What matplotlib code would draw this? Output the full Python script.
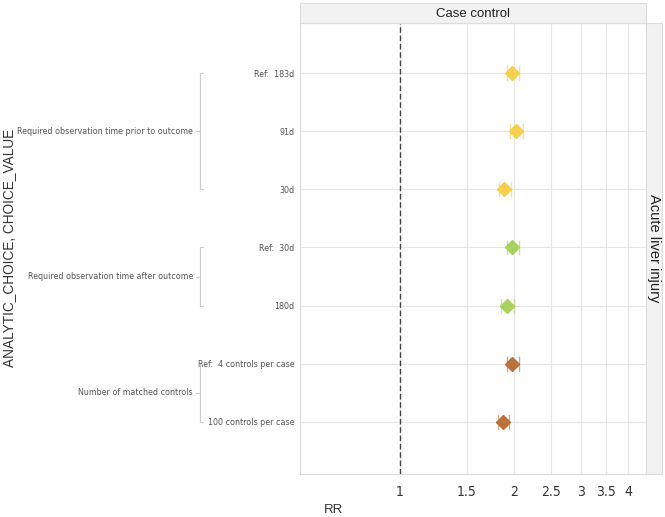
import numpy as np
import matplotlib
matplotlib.use("Agg")
import matplotlib.pyplot as plt
from matplotlib import font_manager

# data
choice_values = ["Ref:  183d", "91d", "30d", "Ref:  30d", "180d",
                 "Ref:  4 controls per case", "100 controls per case"]
rr = [1.98, 2.02, 1.88, 1.98, 1.92, 1.98, 1.87]
ci_low = [1.91, 1.95, 1.82, 1.91, 1.85, 1.91, 1.81]
ci_high = [2.06, 2.11, 1.96, 2.06, 2.00, 2.06, 1.94]
groups = ["Required observation time prior to outcome",
          "Required observation time after outcome",
          "Number of matched controls"]
group_rows = [[0, 1, 2], [3, 4], [5, 6]]
group_colors = ["#F6D04D", "#A8D25E", "#B8723A"]
x_ticks = [1, 1.5, 2, 2.5, 3, 3.5, 4]
x_ticklabels = ["1", "1.5", "2", "2.5", "3", "3.5", "4"]

# look for a condensed face
cond = [f for f in font_manager.fontManager.ttflist
        if ('Narrow' in f.name or 'Condensed' in f.name or 'condensed' in str(f.stretch))
        and 'Bold' not in f.fname and 'Oblique' not in f.fname and 'Italic' not in f.fname]
if cond:
    narrow = dict(family=[cond[0].name, 'DejaVu Sans'], stretch=cond[0].stretch)
    small = 6.4
else:
    narrow = dict(family=['Liberation Sans', 'DejaVu Sans'])
    small = 5.6
plt.rcParams['font.family'] = ['Liberation Sans', 'DejaVu Sans']

W, H = 665, 517
fig = plt.figure(figsize=(W / 100, H / 100), dpi=100)

def fx(px):
    return px / W

def fy(py):
    return 1 - py / H

ax = fig.add_axes([fx(300), fy(474), fx(645.5) - fx(300), fy(22.7) - fy(474)])
ax.set_xscale('log')
ax.set_xlim(0.545, 4.44)
ax.set_ylim(6.9, -0.87)

for t in x_ticks:
    ax.axvline(t, color='#E6E6E6', lw=0.8, zorder=0)
for i in range(len(choice_values)):
    ax.axhline(i, color='#E6E6E6', lw=0.8, zorder=0)
ax.axvline(1, color='#444444', lw=1, ls=(0, (4, 2)), zorder=1)

for g, rows in enumerate(group_rows):
    c = group_colors[g]
    for i in rows:
        ax.plot([ci_low[i], ci_high[i]], [i, i], color=c, lw=1, alpha=0.5, zorder=2)
        for e in (ci_low[i], ci_high[i]):
            ax.plot([e, e], [i - 0.12, i + 0.12], color=c, lw=1, alpha=0.6, zorder=2)
        ax.plot(rr[i], i, marker='D', ms=7, color=c, mec=c, ls='none', zorder=3)

ax.set_xticks(x_ticks)
ax.set_xticklabels(x_ticklabels, fontsize=10, color='#333333', **narrow)
ax.xaxis.set_minor_locator(matplotlib.ticker.NullLocator())
ax.set_yticks(range(len(choice_values)))
ax.set_yticklabels(choice_values, fontsize=small, color='#555555', **narrow)
ax.tick_params(length=0, pad=4)
ax.tick_params(axis='x', pad=8)
for s in ax.spines.values():
    s.set_color('#DDDDDD')
    s.set_linewidth(0.8)

# top strip
st = fig.add_axes([fx(300), fy(22.7), fx(645.5) - fx(300), fy(2.7) - fy(22.7)])
st.set_facecolor('#F2F2F2')
st.set_xticks([])
st.set_yticks([])
for s in st.spines.values():
    s.set_color('#DDDDDD')
st.text(0.5, 0.45, "Case control", ha='center', va='center', fontsize=9.5, color='#222222')

# right strip
rs = fig.add_axes([fx(645.5), fy(474), fx(662) - fx(645.5), fy(22.7) - fy(474)])
rs.set_facecolor('#F2F2F2')
rs.set_xticks([])
rs.set_yticks([])
for s in rs.spines.values():
    s.set_color('#DDDDDD')
rs.text(0.5, 0.5, "Acute liver injury", ha='center', va='center', rotation=-90,
        fontsize=10.5, color='#222222')

# group brackets and labels
for g, rows in enumerate(group_rows):
    top = ax.transData.transform((1, rows[0]))[1] / H
    bot = ax.transData.transform((1, rows[-1]))[1] / H
    fig.add_artist(plt.Line2D([fx(200), fx(200)], [bot, top], color='#CCCCCC', lw=0.8))
    fig.add_artist(plt.Line2D([fx(200), fx(203)], [top, top], color='#CCCCCC', lw=0.8))
    fig.add_artist(plt.Line2D([fx(200), fx(203)], [bot, bot], color='#CCCCCC', lw=0.8))
    mid = (top + bot) / 2
    fig.add_artist(plt.Line2D([fx(196), fx(200)], [mid, mid], color='#CCCCCC', lw=0.8))
    fig.text(fx(193), mid, groups[g], ha='right', va='center', fontsize=small,
             color='#555555', **narrow)

fig.text(fx(9), fy(248), "ANALYTIC_CHOICE, CHOICE_VALUE", rotation=90, ha='center',
         va='center', fontsize=9.8, color='#333333')
fig.text(fx(333), fy(510), "RR", ha='center', va='center', fontsize=9.5, color='#333333')

fig.savefig("out.png", dpi=100)
